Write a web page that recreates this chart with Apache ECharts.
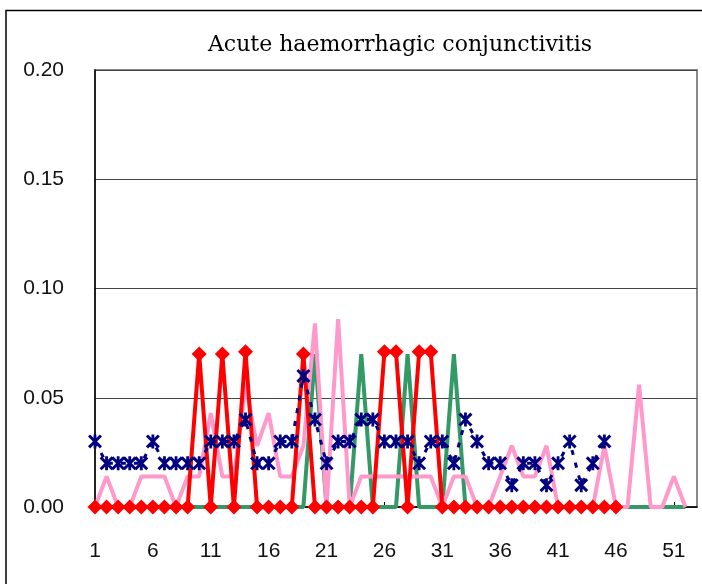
<!DOCTYPE html>
<html>
<head>
<meta charset="utf-8">
<script src="https://cdn.jsdelivr.net/npm/echarts@6/dist/echarts.min.js"></script>
<style>
  html, body { margin: 0; padding: 0; background: #fff; }
  #chart { width: 702px; height: 584px; }
</style>
</head>
<body>
<div id="chart"></div>
<script>
// weeks 1..53
var weeks = [];
for (var i = 1; i <= 53; i++) weeks.push(String(i));

var navy = [0.03, 0.02, 0.02, 0.02, 0.02, 0.03, 0.02, 0.02, 0.02, 0.02,
            0.03, 0.03, 0.03, 0.04, 0.02, 0.02, 0.03, 0.03, 0.06, 0.04,
            0.02, 0.03, 0.03, 0.04, 0.04, 0.03, 0.03, 0.03, 0.02, 0.03,
            0.03, 0.02, 0.04, 0.03, 0.02, 0.02, 0.01, 0.02, 0.02, 0.01,
            0.02, 0.03, 0.01, 0.02, 0.03];

var red = [0, 0, 0, 0, 0, 0, 0, 0, 0, 0.07,
           0, 0.07, 0, 0.071, 0, 0, 0, 0, 0.07, 0,
           0, 0, 0, 0, 0, 0.071, 0.071, 0, 0.071, 0.071,
           0, 0, 0, 0, 0, 0, 0, 0, 0, 0,
           0, 0, 0, 0, 0, 0];

var green = [0, 0, 0, 0, 0, 0, 0, 0, 0, 0,
             0, 0, 0, 0, 0, 0, 0, 0, 0, 0.07,
             0, 0, 0, 0.07, 0, 0, 0, 0.07, 0, 0,
             0, 0.07, 0, 0, 0, 0, 0, 0, 0, 0,
             0, 0, 0, 0, 0, 0, 0, 0, 0, 0,
             0, 0];

var pink = [0, 0.014, 0, 0, 0.014, 0.014, 0.014, 0, 0.014, 0.014,
            0.043, 0.014, 0.014, 0.056, 0.028, 0.043, 0.014, 0.014, 0.028, 0.084,
            0, 0.086, 0, 0.014, 0.014, 0.014, 0.014, 0.014, 0.014, 0.014,
            0, 0.014, 0.014, 0, 0, 0.014, 0.028, 0.014, 0.014, 0.028,
            0, 0, 0, 0, 0.028, 0, 0, 0.056, 0, 0,
            0.014, 0];

var yTicks = [0, 0.05, 0.10, 0.15, 0.20];

// asterisk marker: X plus vertical bar, as filled shapes
var asterisk = 'path://M4,0 L6,0 L6,10 L4,10 Z M0,1.5 L1.5,0 L10,8.5 L8.5,10 Z M8.5,0 L10,1.5 L1.5,10 L0,8.5 Z';

var chart = echarts.init(document.getElementById('chart'));
chart.setOption({
    animation: false,
    title: {
        text: 'Acute haemorrhagic conjunctivitis',
        left: 395,
        top: 29,
        textAlign: 'center',
        textStyle: { fontFamily: 'DejaVu Serif', fontSize: 22, fontWeight: 'normal', color: '#000' }
    },
    graphic: [{
        type: 'rect',
        shape: { x: 6, y: 10.5, width: 800, height: 700 },
        style: { fill: 'none', stroke: '#000', lineWidth: 1.5 },
        z: -10
    }],
    grid: {
        left: 95, right: 5, top: 70, bottom: 77,
        show: true, borderColor: '#888', borderWidth: 2, backgroundColor: 'transparent'
    },
    xAxis: {
        type: 'category',
        data: weeks,
        boundaryGap: false,
        axisLine: { lineStyle: { color: '#000', width: 1.5 } },
        axisTick: { inside: true, interval: 4, length: 5, lineStyle: { color: '#000' } },
        axisLabel: { interval: 4, margin: 34, fontFamily: 'Liberation Sans', fontSize: 21, color: '#111' },
        splitLine: { show: false }
    },
    yAxis: {
        type: 'value',
        min: yTicks[0],
        max: yTicks[yTicks.length - 1],
        interval: 0.05,
        axisLine: { show: true, lineStyle: { color: '#000', width: 1.5 } },
        axisTick: { show: false },
        axisLabel: {
            margin: 31, fontFamily: 'Liberation Sans', fontSize: 21, color: '#111',
            formatter: function (v) { return v.toFixed(2); }
        },
        splitLine: { lineStyle: { color: '#444', width: 1 } }
    },
    series: [
        {
            name: 'green', type: 'line', data: green, showSymbol: false,
            lineStyle: { color: '#339966', width: 4 }, z: 2
        },
        {
            name: 'pink', type: 'line', data: pink, showSymbol: false,
            lineStyle: { color: '#ff99cc', width: 4 }, z: 3
        },
        {
            name: 'red', type: 'line', data: red,
            symbol: 'diamond', symbolSize: 15, showAllSymbol: true,
            itemStyle: { color: '#ff0000', borderWidth: 0 },
            lineStyle: { color: '#ff0000', width: 4 }, z: 4
        },
        {
            name: 'navy', type: 'line', data: navy,
            symbol: asterisk, symbolSize: 14, showAllSymbol: true,
            itemStyle: { color: '#000080', borderWidth: 0 },
            lineStyle: { color: '#000080', width: 3, type: [5, 8] }, z: 5
        }
    ]
});
</script>
</body>
</html>
